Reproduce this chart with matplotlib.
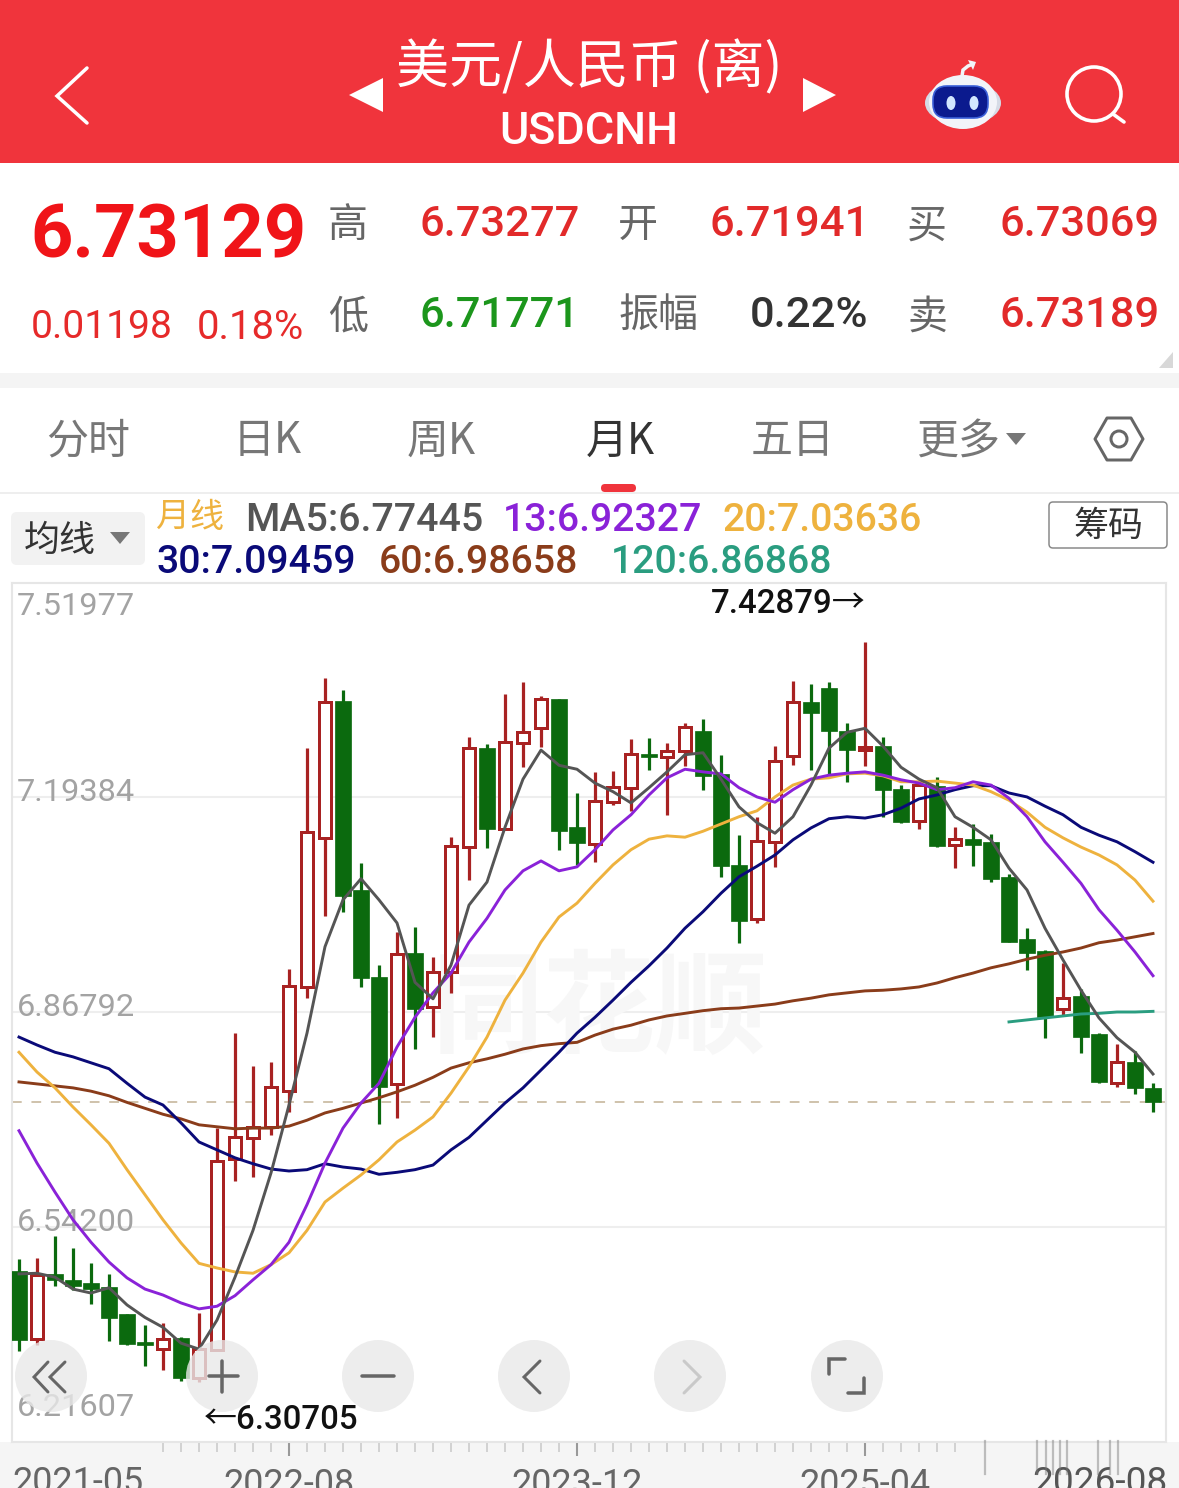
"""
plot.py

USD/CNH monthly candlestick screen, drawn with matplotlib.
"""
import numpy as np
import matplotlib
matplotlib.use("Agg")
import matplotlib.pyplot as plt
from matplotlib.patches import Rectangle, Circle, Ellipse, FancyBboxPatch, Polygon

CJK = ["Noto Sans CJK SC", "DejaVu Sans"]
NUM = ["Roboto", "Noto Sans CJK SC", "DejaVu Sans"]
plt.rcParams["font.family"] = NUM

########
# Data #
########
opens = [6.475, 6.372, 6.471, 6.462, 6.457, 6.451, 6.410, 6.368, 6.357, 6.374, 6.313, 6.356, 6.645, 6.677, 6.694, 6.748,
         6.906, 7.132, 7.339, 7.053, 6.921, 6.759, 6.957, 6.876, 6.929, 7.118, 7.268, 7.145, 7.276, 7.298, 7.342, 7.148,
         7.123, 7.186, 7.208, 7.259, 7.255, 7.264, 7.294, 7.229, 7.091, 7.009, 7.126, 7.256, 7.338, 7.359, 7.294, 7.265,
         7.271, 7.206, 7.158, 7.211, 7.121, 7.130, 7.126, 7.073, 6.979, 6.960, 6.873, 6.892, 6.835, 6.760, 6.792, 6.753]
closes = [6.371, 6.469, 6.462, 6.453, 6.448, 6.404, 6.365, 6.363, 6.372, 6.313, 6.357, 6.642, 6.678, 6.694, 6.754, 6.907,
          7.141, 7.338, 7.044, 6.920, 6.754, 6.956, 6.873, 6.929, 7.120, 7.268, 7.145, 7.277, 7.292, 7.342, 7.142, 7.124,
          7.188, 7.209, 7.259, 7.255, 7.264, 7.300, 7.226, 7.089, 7.006, 7.127, 7.248, 7.338, 7.321, 7.294, 7.265, 7.270,
          7.205, 7.156, 7.212, 7.120, 7.130, 7.121, 7.070, 6.974, 6.957, 6.860, 6.889, 6.830, 6.762, 6.792, 6.753, 6.731]
highs = [6.494, 6.495, 6.528, 6.510, 6.487, 6.471, 6.410, 6.394, 6.397, 6.375, 6.412, 6.692, 6.836, 6.786, 6.792, 6.933,
         7.268, 7.374, 7.356, 7.094, 6.939, 6.989, 6.997, 6.951, 7.133, 7.285, 7.274, 7.350, 7.368, 7.347, 7.342, 7.200,
         7.232, 7.233, 7.282, 7.283, 7.276, 7.306, 7.312, 7.258, 7.136, 7.164, 7.271, 7.370, 7.365, 7.368, 7.306, 7.429,
         7.285, 7.212, 7.215, 7.224, 7.148, 7.153, 7.138, 7.077, 6.995, 6.962, 6.942, 6.903, 6.836, 6.820, 6.809, 6.760]
lows = [6.354, 6.363, 6.453, 6.447, 6.425, 6.369, 6.363, 6.331, 6.325, 6.309, 6.307, 6.356, 6.612, 6.618, 6.682, 6.716,
        6.889, 7.014, 7.020, 6.906, 6.698, 6.707, 6.812, 6.830, 6.897, 7.068, 7.117, 7.145, 7.239, 7.270, 7.114, 7.091,
        7.095, 7.182, 7.173, 7.235, 7.167, 7.241, 7.205, 7.073, 6.973, 7.003, 7.088, 7.242, 7.235, 7.227, 7.217, 7.241,
        7.164, 7.155, 7.145, 7.118, 7.086, 7.089, 7.065, 6.974, 6.932, 6.829, 6.863, 6.806, 6.760, 6.754, 6.744, 6.716]

ma5 = [6.471, 6.472, 6.466, 6.448, 6.442, 6.450, 6.424, 6.405, 6.390, 6.366, 6.357, 6.401, 6.466, 6.537, 6.624, 6.727,
       6.836, 6.967, 7.038, 7.070, 7.038, 7.003, 6.913, 6.888, 6.939, 7.030, 7.065, 7.148, 7.221, 7.265, 7.242, 7.236,
       7.215, 7.202, 7.185, 7.208, 7.232, 7.258, 7.261, 7.221, 7.179, 7.155, 7.139, 7.164, 7.212, 7.268, 7.292, 7.298,
       7.271, 7.239, 7.221, 7.208, 7.164, 7.148, 7.129, 7.086, 7.053, 6.995, 6.947, 6.901, 6.859, 6.829, 6.807, 6.774]
ma13 = [6.688, 6.639, 6.595, 6.553, 6.519, 6.489, 6.465, 6.448, 6.439, 6.427, 6.418, 6.422, 6.438, 6.462, 6.485, 6.519,
        6.576, 6.639, 6.692, 6.730, 6.760, 6.815, 6.860, 6.897, 6.927, 6.974, 7.010, 7.053, 7.082, 7.097, 7.082, 7.088,
        7.114, 7.144, 7.167, 7.197, 7.223, 7.236, 7.232, 7.229, 7.208, 7.194, 7.186, 7.205, 7.221, 7.227, 7.230, 7.232,
        7.227, 7.220, 7.215, 7.205, 7.208, 7.217, 7.212, 7.192, 7.164, 7.126, 7.095, 7.063, 7.023, 6.992, 6.959, 6.923]
ma20 = [6.807, 6.777, 6.753, 6.724, 6.697, 6.669, 6.629, 6.591, 6.553, 6.518, 6.487, 6.480, 6.474, 6.472, 6.485, 6.503,
        6.537, 6.580, 6.601, 6.621, 6.644, 6.671, 6.689, 6.709, 6.745, 6.785, 6.830, 6.886, 6.927, 6.974, 7.012, 7.033,
        7.063, 7.091, 7.114, 7.130, 7.135, 7.133, 7.142, 7.153, 7.164, 7.173, 7.194, 7.212, 7.221, 7.223, 7.229, 7.230,
        7.226, 7.217, 7.217, 7.218, 7.215, 7.212, 7.202, 7.189, 7.171, 7.148, 7.132, 7.118, 7.106, 7.091, 7.068, 7.036]
ma30 = [6.830, 6.818, 6.807, 6.800, 6.791, 6.782, 6.760, 6.739, 6.727, 6.700, 6.671, 6.659, 6.647, 6.638, 6.630, 6.627,
        6.629, 6.638, 6.633, 6.630, 6.622, 6.625, 6.629, 6.636, 6.659, 6.678, 6.704, 6.730, 6.753, 6.780, 6.807, 6.836,
        6.860, 6.886, 6.913, 6.938, 6.965, 6.995, 7.020, 7.048, 7.073, 7.089, 7.106, 7.129, 7.147, 7.161, 7.164, 7.162,
        7.167, 7.177, 7.191, 7.197, 7.205, 7.211, 7.211, 7.200, 7.194, 7.180, 7.167, 7.148, 7.136, 7.126, 7.111, 7.095]
ma60 = [6.762, 6.759, 6.756, 6.753, 6.748, 6.741, 6.731, 6.722, 6.713, 6.706, 6.697, 6.694, 6.691, 6.692, 6.692, 6.695,
        6.704, 6.715, 6.722, 6.730, 6.738, 6.747, 6.757, 6.769, 6.783, 6.791, 6.797, 6.804, 6.812, 6.817, 6.820, 6.822,
        6.833, 6.842, 6.848, 6.856, 6.862, 6.866, 6.870, 6.873, 6.874, 6.877, 6.880, 6.885, 6.889, 6.894, 6.897, 6.900,
        6.901, 6.903, 6.906, 6.912, 6.920, 6.927, 6.935, 6.941, 6.948, 6.954, 6.959, 6.965, 6.973, 6.977, 6.982, 6.987]
ma120_tail = [6.853, 6.856, 6.859, 6.862, 6.865, 6.866, 6.868, 6.868, 6.869]

last_price = 6.73129
grid_prices = [7.19384, 6.86792, 6.54200]
price_labels = ["7.51977", "7.19384", "6.86792", "6.54200", "6.21607"]
date_ticks = [15, 31, 47]
date_labels = ["2022-08", "2023-12", "2025-04"]

RED = "#a82222"
GREEN = "#0b6a0e"


###########
# Helpers #
###########
def label(ax, x, y, s, px, color, ha="center", family=NUM, weight="normal", zorder=5):
    """Put text on a pixel-coordinate axes, size given in pixels."""
    return ax.text(x, y + 0.08 * px, s, fontsize=px * 0.72, color=color, ha=ha, va="center", family=family,
                   weight=weight, zorder=zorder)


def polyline(ax, xs, ys, color, lw_px, zorder=5):
    ax.plot(xs, ys, color=color, lw=lw_px * 0.72, solid_capstyle="round", solid_joinstyle="miter", zorder=zorder)


def draw_header(ax):
    ax.add_patch(Rectangle((0, 0), 1179, 163, color="#f0343c", lw=0))
    label(ax, 589, 64, "美元/人民币 (离)", 53, "white", family=CJK, weight="medium")
    label(ax, 589, 128, "USDCNH", 45, "white", weight="medium")
    ax.add_patch(Polygon([[349, 95], [383, 78], [383, 112]], color="white", lw=0))
    ax.add_patch(Polygon([[803, 78], [836, 95], [803, 112]], color="white", lw=0))
    polyline(ax, [87, 57, 87], [68, 96, 123], "white", 3.5)

    # assistant robot
    ax.add_patch(Ellipse((963, 103), 76, 44, color="#d5dbe6", lw=0))
    ax.add_patch(Ellipse((963, 102), 68, 54, color="#f2f4f9", lw=0))
    ax.add_patch(FancyBboxPatch((933, 86), 55, 32, boxstyle="round,pad=0,rounding_size=14", color="#0b1a8e",
                                ec="#3a5fd8", lw=1.2))
    ax.add_patch(Ellipse((951, 103), 9, 14, color="#d2e6ff", lw=0))
    ax.add_patch(Ellipse((974, 103), 9, 14, color="#d2e6ff", lw=0))
    polyline(ax, [962, 963, 968, 973], [76, 70, 66, 64], "#f2f4f9", 3.5)
    ax.add_patch(Polygon([[968, 60], [976, 62], [973, 70]], color="#f2f4f9", lw=0))

    # search
    ax.add_patch(Circle((1094, 94), 27, fill=False, ec="white", lw=3.6 * 0.72))
    polyline(ax, [1113, 1124], [114, 122], "white", 3.6)


def draw_quote(ax):
    label(ax, 30, 232, "6.73129", 74, "#f01418", ha="left", weight="bold")
    label(ax, 31, 324, "0.01198", 39, "#e62a2a", ha="left")
    label(ax, 197, 324, "0.18%", 40, "#e62a2a", ha="left")
    rows = [(221, [("高", 348, "#666666"), ("6.73277", 420, "#e22a2a"), ("开", 638, "#666666"),
                   ("6.71941", 710, "#e22a2a"), ("买", 927, "#666666"), ("6.73069", 999, "#e22a2a")]),
            (312, [("低", 348, "#666666"), ("6.71771", 420, "#1c961c"), ("振幅", 658, "#666666"),
                   ("0.22%", 750, "#333333"), ("卖", 927, "#666666"), ("6.73189", 999, "#e22a2a")])]
    for y, items in rows:
        for s, x, color in items:
            if s[0].isdigit():
                label(ax, x, y, s, 43.5, color, ha="left", weight="medium")
            else:
                label(ax, x, y + 2, s, 40, color, family=CJK)
    ax.add_patch(Polygon([[1173, 352], [1173, 368], [1159, 368]], color="#d8d8d8", lw=0))
    ax.add_patch(Rectangle((0, 373), 1179, 15, color="#f4f4f4", lw=0))


def draw_tabs(ax):
    tabs = [("分时", 88), ("日K", 267), ("周K", 441), ("五日", 793), ("更多", 958)]
    for s, x in tabs:
        label(ax, x, 438, s, 42, "#777777", family=CJK)
    label(ax, 620, 438, "月K", 42, "#333333", family=CJK, weight="medium")
    ax.add_patch(Polygon([[1006, 433], [1026, 433], [1016, 445]], color="#777777", lw=0))
    ax.add_patch(Polygon([[1095, 439], [1107, 418], [1131, 418], [1143, 439], [1131, 460], [1107, 460]],
                         fill=False, ec="#666666", lw=3 * 0.72, joinstyle="round"))
    ax.add_patch(Circle((1119, 439), 8, fill=False, ec="#666666", lw=3 * 0.72))
    ax.add_patch(FancyBboxPatch((601, 484), 35, 8, boxstyle="round,pad=0,rounding_size=4", color="#f0343c", lw=0))
    ax.add_patch(Rectangle((0, 492), 1179, 2, color="#eeeeee", lw=0))


def draw_legend(ax):
    ax.add_patch(FancyBboxPatch((11, 512), 134, 53, boxstyle="round,pad=0,rounding_size=6", color="#f2f2f2", lw=0))
    label(ax, 60, 538, "均线", 36, "#333333", family=CJK)
    ax.add_patch(Polygon([[110, 532], [130, 532], [120, 544]], color="#777777", lw=0))
    label(ax, 190, 515, "月线", 34, "#eeb23e", family=CJK)
    label(ax, 245, 517, "MA5:6.77445", 39.2, "#555555", ha="left", weight="medium")
    label(ax, 503, 517, "13:6.92327", 39.2, "#8a22d8", ha="left", weight="medium")
    label(ax, 722, 517, "20:7.03636", 39.2, "#eeb23e", ha="left", weight="medium")
    label(ax, 156, 559, "30:7.09459", 39.2, "#0a0a78", ha="left", weight="medium")
    label(ax, 379, 559, "60:6.98658", 39.2, "#8a3c1a", ha="left", weight="medium")
    label(ax, 611, 559, "120:6.86868", 39.2, "#2a9d80", ha="left", weight="medium")
    ax.add_patch(FancyBboxPatch((1049, 502), 118, 46, boxstyle="round,pad=0,rounding_size=4",
                                fc="white", ec="#888888", lw=1.5 * 0.72))
    label(ax, 1108, 523, "筹码", 35, "#333333", family=CJK)


def draw_candles(ax, idx):
    up = closes_arr >= opens_arr
    colors = np.where(up, RED, GREEN)
    ax.vlines(idx, lows, highs, colors=colors, lw=3.2 * 0.72, zorder=3)
    bottoms = np.minimum(opens_arr, closes_arr)
    heights = np.abs(closes_arr - opens_arr)
    # up months are hollow, down months are filled
    ax.bar(idx[up], heights[up], width=0.66, bottom=bottoms[up], facecolor="white", edgecolor=RED,
           linewidth=3 * 0.72, zorder=4)
    ax.bar(idx[~up], heights[~up], width=0.84, bottom=bottoms[~up], facecolor=GREEN, edgecolor=GREEN,
           linewidth=0.5, zorder=4)


def draw_buttons(ax):
    for x in [51, 222, 378, 534, 690, 847]:
        ax.add_patch(Circle((x, 1376), 36, color="#e9e9e9", alpha=0.8, lw=0, zorder=4))
    dark = "#666666"
    polyline(ax, [48, 34, 48], [1362, 1377, 1392], dark, 3)
    polyline(ax, [65, 50, 65], [1362, 1377, 1392], dark, 3)
    polyline(ax, [209, 238], [1376, 1376], dark, 3.5)
    polyline(ax, [222, 222], [1361, 1392], dark, 3.5)
    polyline(ax, [362, 394], [1376, 1376], dark, 3.5)
    polyline(ax, [540, 524, 540], [1361, 1377, 1393], dark, 3)
    polyline(ax, [684, 700, 684], [1361, 1377, 1393], "#c9c9c9", 3)
    polyline(ax, [829, 829, 845], [1374, 1359, 1359], dark, 3.5)
    polyline(ax, [848, 864, 864], [1393, 1393, 1378], dark, 3.5)


#########
# Plots #
#########
if __name__ == "__main__":
    opens_arr = np.array(opens)
    closes_arr = np.array(closes)
    ma120 = [np.nan] * (len(opens) - len(ma120_tail)) + ma120_tail

    fig = plt.figure(figsize=(11.79, 14.88), dpi=100, facecolor="white")

    # pixel axes under and over the chart
    bg = fig.add_axes([0, 0, 1, 1], zorder=0)
    top = fig.add_axes([0, 0, 1, 1], zorder=3)
    for a in (bg, top):
        a.set_xlim(0, 1179)
        a.set_ylim(1488, 0)
        a.axis("off")
    top.patch.set_alpha(0)

    draw_header(bg)
    draw_quote(bg)
    draw_tabs(bg)
    draw_legend(bg)
    bg.add_patch(Rectangle((0, 1442), 1179, 46, color="#f5f5f5", lw=0))

    # chart axes, pixel box 12..1166 x 583..1442
    ax = fig.add_axes([12 / 1179, 1 - 1442 / 1488, 1154 / 1179, 859 / 1488], zorder=1)
    ax.set_xlim(-7 / 18, 1147 / 18)
    ax.set_ylim(6.2162, 7.5183)
    for side in ax.spines.values():
        side.set_color("#e6e6e6")
        side.set_linewidth(1.5)

    idx = np.arange(len(opens))
    ax.set_yticks(grid_prices)
    ax.tick_params(axis="y", left=False, labelleft=False)
    ax.grid(axis="y", color="#eeeeee", lw=1.5, zorder=0)
    ax.set_axisbelow(True)

    ax.set_xticks(date_ticks)
    ax.set_xticklabels(date_labels, fontsize=36 * 0.72, color="#666666")
    ax.set_xticks([i for i in range(8, 53) if i not in date_ticks], minor=True)
    ax.tick_params(axis="x", which="major", length=10, width=1.5, color="#999999", pad=8)
    ax.tick_params(axis="x", which="minor", length=7, width=1.2, color="#cccccc")

    # watermark and axis prices sit under the candles
    ax.text(600, 1012, "同花顺", transform=bg.transData, fontsize=112 * 0.72, color="#f7f7f7", family=CJK,
            weight="bold", ha="center", va="center", zorder=1)
    for s, y in zip(price_labels, [604, 790, 1005, 1220, 1405]):
        ax.text(17, y + 2.5, s, transform=bg.transData, fontsize=32.5 * 0.72, color="#a3a3a3", ha="left",
                va="center", zorder=1)

    ax.axhline(last_price, color="#cfc2ab", lw=1.4, dashes=(5, 5), zorder=2)
    draw_candles(ax, idx)

    ax.plot(idx, ma120, color="#2a9d80", lw=2.1, zorder=5)
    ax.plot(idx, ma60, color="#8a3c1a", lw=2.1, zorder=5)
    ax.plot(idx, ma30, color="#0a0a78", lw=2.1, zorder=5)
    ax.plot(idx, ma20, color="#eeb23e", lw=2.1, zorder=5)
    ax.plot(idx, ma13, color="#8a22d8", lw=2.1, zorder=5)
    ax.plot(idx, ma5, color="#555555", lw=2.1, zorder=5)

    draw_buttons(top)
    label(top, 711, 601, "7.42879→", 33, "#111111", ha="left", weight="medium")
    label(top, 204, 1417, "←6.30705", 33, "#111111", ha="left", weight="medium")

    # end dates are pushed inward so they do not follow their ticks
    label(top, 12, 1480, "2021-05", 36, "#666666", ha="left")
    label(top, 1168, 1480, "2026-08", 37, "#555555", ha="right")

    # smeared watermark stripes over the last date label
    for x in [985, 1037, 1046, 1053, 1060, 1067, 1098, 1110, 1118]:
        top.plot([x, x], [1441, 1474], color="#777777", lw=1.6, alpha=0.45, zorder=6)

    fig.savefig("out.png", dpi=100)
    plt.close(fig)
